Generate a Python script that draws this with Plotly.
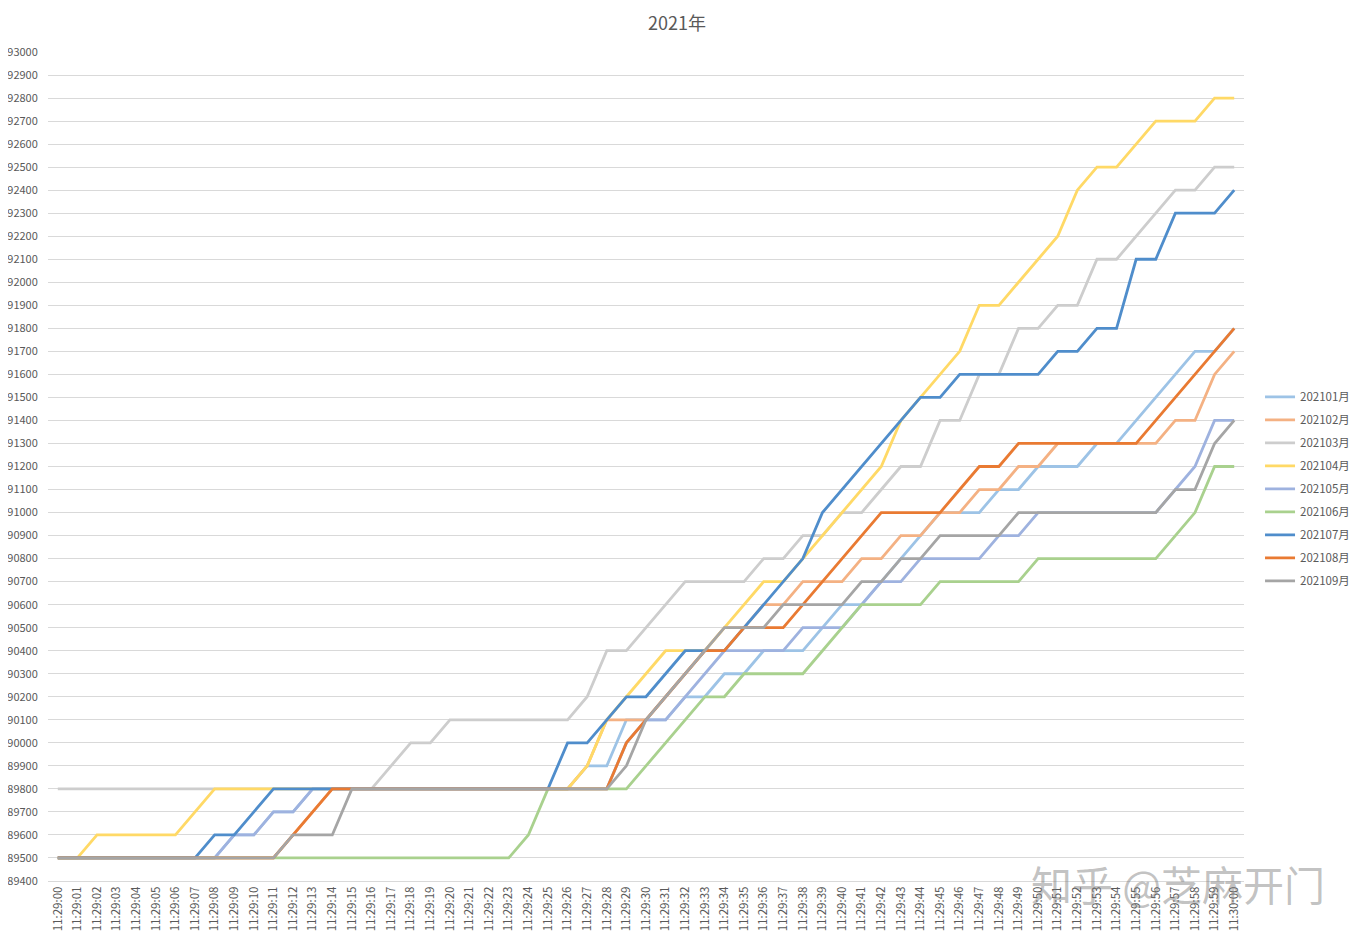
import plotly.graph_objects as go

times = [
    "11:29:00", "11:29:01", "11:29:02", "11:29:03", "11:29:04", "11:29:05", "11:29:06", "11:29:07", "11:29:08", "11:29:09",
    "11:29:10", "11:29:11", "11:29:12", "11:29:13", "11:29:14", "11:29:15", "11:29:16", "11:29:17", "11:29:18", "11:29:19",
    "11:29:20", "11:29:21", "11:29:22", "11:29:23", "11:29:24", "11:29:25", "11:29:26", "11:29:27", "11:29:28", "11:29:29",
    "11:29:30", "11:29:31", "11:29:32", "11:29:33", "11:29:34", "11:29:35", "11:29:36", "11:29:37", "11:29:38", "11:29:39",
    "11:29:40", "11:29:41", "11:29:42", "11:29:43", "11:29:44", "11:29:45", "11:29:46", "11:29:47", "11:29:48", "11:29:49",
    "11:29:50", "11:29:51", "11:29:52", "11:29:53", "11:29:54", "11:29:55", "11:29:56", "11:29:57", "11:29:58", "11:29:59",
    "11:30:00",
]

s202101 = [89500, 89500, 89500, 89500, 89500, 89500, 89500, 89500, 89500, 89600,
           89600, 89700, 89700, 89800, 89800, 89800, 89800, 89800, 89800, 89800,
           89800, 89800, 89800, 89800, 89800, 89800, 89800, 89900, 89900, 90100,
           90100, 90100, 90200, 90200, 90300, 90300, 90400, 90400, 90400, 90500,
           90600, 90600, 90700, 90800, 90900, 91000, 91000, 91000, 91100, 91100,
           91200, 91200, 91200, 91300, 91300, 91400, 91500, 91600, 91700, 91700,
           91800]
s202102 = [89500, 89500, 89500, 89500, 89500, 89500, 89500, 89500, 89500, 89500,
           89500, 89500, 89600, 89700, 89800, 89800, 89800, 89800, 89800, 89800,
           89800, 89800, 89800, 89800, 89800, 89800, 89800, 89900, 90100, 90100,
           90100, 90200, 90300, 90400, 90500, 90500, 90600, 90600, 90700, 90700,
           90700, 90800, 90800, 90900, 90900, 91000, 91000, 91100, 91100, 91200,
           91200, 91300, 91300, 91300, 91300, 91300, 91300, 91400, 91400, 91600,
           91700]
s202103 = [89800, 89800, 89800, 89800, 89800, 89800, 89800, 89800, 89800, 89800,
           89800, 89800, 89800, 89800, 89800, 89800, 89800, 89900, 90000, 90000,
           90100, 90100, 90100, 90100, 90100, 90100, 90100, 90200, 90400, 90400,
           90500, 90600, 90700, 90700, 90700, 90700, 90800, 90800, 90900, 90900,
           91000, 91000, 91100, 91200, 91200, 91400, 91400, 91600, 91600, 91800,
           91800, 91900, 91900, 92100, 92100, 92200, 92300, 92400, 92400, 92500,
           92500]
s202104 = [89500, 89500, 89600, 89600, 89600, 89600, 89600, 89700, 89800, 89800,
           89800, 89800, 89800, 89800, 89800, 89800, 89800, 89800, 89800, 89800,
           89800, 89800, 89800, 89800, 89800, 89800, 89800, 89900, 90100, 90200,
           90300, 90400, 90400, 90400, 90500, 90600, 90700, 90700, 90800, 90900,
           91000, 91100, 91200, 91400, 91500, 91600, 91700, 91900, 91900, 92000,
           92100, 92200, 92400, 92500, 92500, 92600, 92700, 92700, 92700, 92800,
           92800]
s202105 = [89500, 89500, 89500, 89500, 89500, 89500, 89500, 89500, 89500, 89600,
           89600, 89700, 89700, 89800, 89800, 89800, 89800, 89800, 89800, 89800,
           89800, 89800, 89800, 89800, 89800, 89800, 89800, 89800, 89800, 90000,
           90100, 90100, 90200, 90300, 90400, 90400, 90400, 90400, 90500, 90500,
           90500, 90600, 90700, 90700, 90800, 90800, 90800, 90800, 90900, 90900,
           91000, 91000, 91000, 91000, 91000, 91000, 91000, 91100, 91200, 91400,
           91400]
s202106 = [89500, 89500, 89500, 89500, 89500, 89500, 89500, 89500, 89500, 89500,
           89500, 89500, 89500, 89500, 89500, 89500, 89500, 89500, 89500, 89500,
           89500, 89500, 89500, 89500, 89600, 89800, 89800, 89800, 89800, 89800,
           89900, 90000, 90100, 90200, 90200, 90300, 90300, 90300, 90300, 90400,
           90500, 90600, 90600, 90600, 90600, 90700, 90700, 90700, 90700, 90700,
           90800, 90800, 90800, 90800, 90800, 90800, 90800, 90900, 91000, 91200,
           91200]
s202107 = [89500, 89500, 89500, 89500, 89500, 89500, 89500, 89500, 89600, 89600,
           89700, 89800, 89800, 89800, 89800, 89800, 89800, 89800, 89800, 89800,
           89800, 89800, 89800, 89800, 89800, 89800, 90000, 90000, 90100, 90200,
           90200, 90300, 90400, 90400, 90400, 90500, 90600, 90700, 90800, 91000,
           91100, 91200, 91300, 91400, 91500, 91500, 91600, 91600, 91600, 91600,
           91600, 91700, 91700, 91800, 91800, 92100, 92100, 92300, 92300, 92300,
           92400]
s202108 = [89500, 89500, 89500, 89500, 89500, 89500, 89500, 89500, 89500, 89500,
           89500, 89500, 89600, 89700, 89800, 89800, 89800, 89800, 89800, 89800,
           89800, 89800, 89800, 89800, 89800, 89800, 89800, 89800, 89800, 90000,
           90100, 90200, 90300, 90400, 90400, 90500, 90500, 90500, 90600, 90700,
           90800, 90900, 91000, 91000, 91000, 91000, 91100, 91200, 91200, 91300,
           91300, 91300, 91300, 91300, 91300, 91300, 91400, 91500, 91600, 91700,
           91800]
s202109 = [89500, 89500, 89500, 89500, 89500, 89500, 89500, 89500, 89500, 89500,
           89500, 89500, 89600, 89600, 89600, 89800, 89800, 89800, 89800, 89800,
           89800, 89800, 89800, 89800, 89800, 89800, 89800, 89800, 89800, 89900,
           90100, 90200, 90300, 90400, 90500, 90500, 90500, 90600, 90600, 90600,
           90600, 90700, 90700, 90800, 90800, 90900, 90900, 90900, 90900, 91000,
           91000, 91000, 91000, 91000, 91000, 91000, 91000, 91100, 91100, 91300,
           91400]

series_names = ["202101月", "202102月", "202103月", "202104月", "202105月",
                "202106月", "202107月", "202108月", "202109月"]
series_values = [s202101, s202102, s202103, s202104, s202105,
                 s202106, s202107, s202108, s202109]
series_colors = ["#9DC3E6", "#F4B183", "#CDCDCD", "#FFD966", "#9EB2DF",
                 "#A9D18E", "#4F8DCB", "#E97A32", "#A5A5A5"]

FONT = "Noto Sans CJK SC, Noto Sans, sans-serif"
TXT = "#595959"

fig = go.Figure()
for name, vals, col in zip(series_names, series_values, series_colors):
    fig.add_trace(go.Scatter(
        x=times, y=vals, name=name, mode="lines",
        line=dict(color=col, width=2.8),
        legendgroup=name,
    ))

# page body has an 8px margin, so the figure is placed 8px right/down
fig.update_layout(
    width=1349, height=932,
    paper_bgcolor="white", plot_bgcolor="white",
    margin=dict(l=40, r=113, t=44, b=59, autoexpand=False),
    font=dict(family=FONT, size=12, color=TXT),
    title=dict(text="2021年", x=0.496, xref="container", xanchor="center",
               y=1 - 16 / 932, yref="container", yanchor="middle",
               font=dict(family=FONT, size=18, color=TXT)),
    showlegend=True,
    legend=dict(x=1.0134, xanchor="left", y=0.473, yanchor="middle",
                font=dict(family=FONT, size=11.5, color=TXT),
                tracegroupgap=4, bgcolor="rgba(0,0,0,0)"),
    xaxis=dict(type="category", range=[-0.5, len(times) - 0.5],
               tickangle=-90, showgrid=False, showline=True,
               linecolor="#D9D9D9", linewidth=1, ticks="",
               tickfont=dict(family=FONT, size=11.5, color=TXT),
               zeroline=False, fixedrange=True, automargin=False),
    yaxis=dict(range=[89400, 93000], dtick=100, tick0=89400,
               showgrid=True, gridcolor="#D9D9D9", gridwidth=1,
               showline=False, zeroline=False,
               ticks="outside", ticklen=7, tickcolor="rgba(0,0,0,0)",
               tickfont=dict(family=FONT, size=11, color=TXT),
               tickformat="d", fixedrange=True, automargin=False),
    annotations=[dict(text="知乎 @芝麻开门", xref="paper", yref="paper",
                      x=0.945, y=-0.003, xanchor="center", yanchor="middle",
                      showarrow=False,
                      font=dict(family=FONT, size=41, color="rgba(120,120,120,0.45)"))],
)

fig.write_html("out.html")
